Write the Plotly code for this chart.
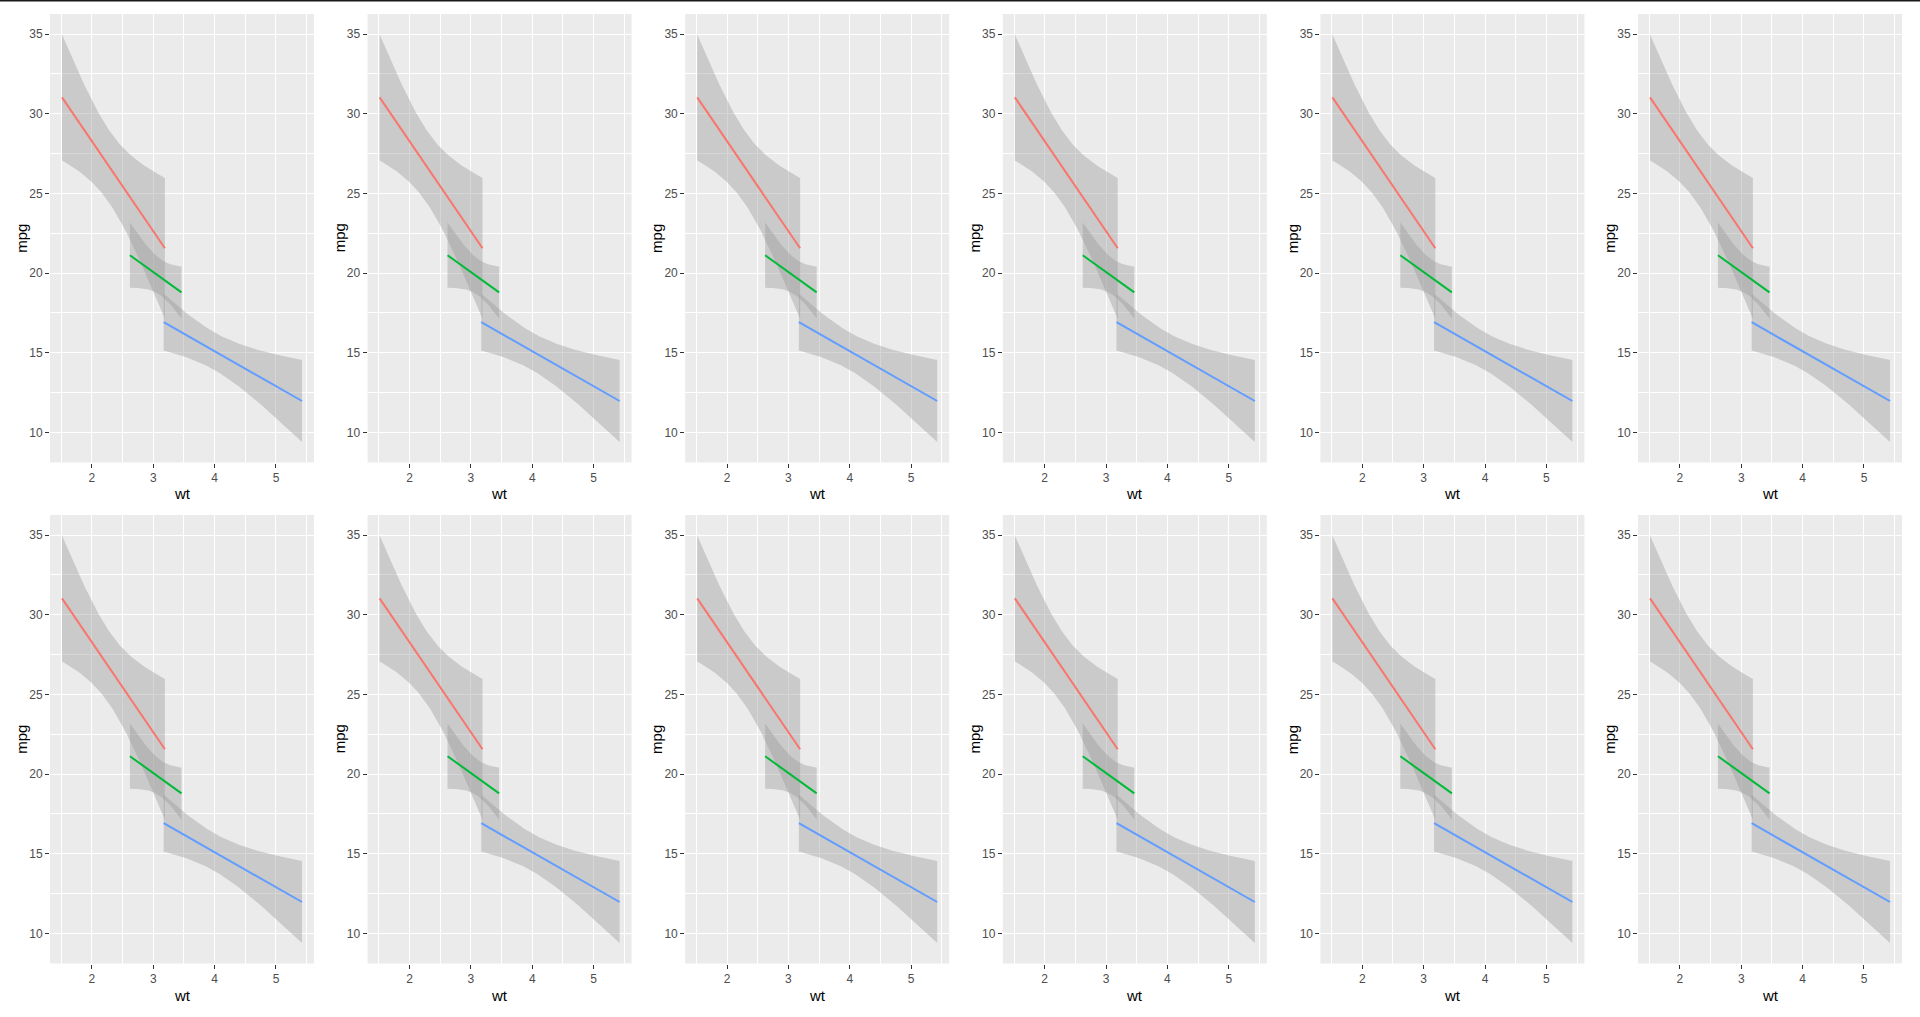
import numpy as np
import plotly.graph_objects as go

# mtcars data (wt in 1000 lbs, mpg), split by number of cylinders
wt_4cyl = [2.320, 3.190, 3.150, 2.200, 1.615, 1.835, 2.465, 1.935, 2.140, 1.513, 2.780]
mpg_4cyl = [22.8, 24.4, 22.8, 32.4, 30.4, 33.9, 21.5, 27.3, 26.0, 30.4, 21.4]

wt_6cyl = [2.620, 2.875, 3.215, 3.460, 3.440, 3.440, 2.770]
mpg_6cyl = [21.0, 21.0, 21.4, 18.1, 19.2, 17.8, 19.7]

wt_8cyl = [3.440, 3.570, 4.070, 3.730, 3.780, 5.250, 5.424, 5.345, 3.520, 3.435, 3.840, 3.845, 3.170, 3.570]
mpg_8cyl = [18.7, 14.3, 16.4, 17.3, 15.2, 10.4, 10.4, 14.7, 15.5, 15.2, 13.3, 19.2, 15.8, 15.0]

group_colors = ["#F8766D", "#00BA38", "#619CFF"]
# two-sided 95% Student t quantiles by residual degrees of freedom
t975 = {5: 2.570582, 9: 2.262157, 12: 2.178813}

x_ticks = [2, 3, 4, 5]
y_ticks = [10, 15, 20, 25, 30, 35]

groups = [(wt_4cyl, mpg_4cyl), (wt_6cyl, mpg_6cyl), (wt_8cyl, mpg_8cyl)]


def lm_smooth(x, y, n_pts=80):
    x = np.asarray(x, float)
    y = np.asarray(y, float)
    n = len(x)
    xbar, ybar = x.mean(), y.mean()
    sxx = ((x - xbar) ** 2).sum()
    b1 = ((x - xbar) * (y - ybar)).sum() / sxx
    b0 = ybar - b1 * xbar
    s = np.sqrt(((y - (b0 + b1 * x)) ** 2).sum() / (n - 2))
    xs = np.linspace(x.min(), x.max(), n_pts)
    fit = b0 + b1 * xs
    se = s * np.sqrt(1.0 / n + (xs - xbar) ** 2 / sxx)
    t = t975[n - 2]
    return xs, fit, fit - t * se, fit + t * se


smooths = [lm_smooth(x, y) for x, y in groups]

all_x = np.concatenate([np.asarray(g[0]) for g in groups])
xmin, xmax = all_x.min(), all_x.max()
ymin = min(s[2].min() for s in smooths)
ymax = max(s[3].max() for s in smooths)
xr = [xmin - 0.05 * (xmax - xmin), xmax + 0.05 * (xmax - xmin)]
yr = [ymin - 0.05 * (ymax - ymin), ymax + 0.05 * (ymax - ymin)]

W, H = 1920, 1017
col_left = [50 + 317.6 * i for i in range(6)]
panel_w = 264
row_top = [14, 515]
panel_h = 448.5

fig = go.Figure()
annotations = []
tick_font = dict(family="Liberation Sans, Arial, sans-serif", size=12, color="#4D4D4D")
title_font = dict(family="Liberation Sans, Arial, sans-serif", size=15, color="#000000")

k = 0
for r in range(2):
    for c in range(6):
        k += 1
        sfx = "" if k == 1 else str(k)
        xa, ya = "x" + sfx, "y" + sfx
        for (xs, fit, lo, hi), col in zip(smooths, group_colors):
            fig.add_trace(go.Scatter(
                x=np.concatenate([xs, xs[::-1]]),
                y=np.concatenate([hi, lo[::-1]]),
                fill="toself", fillcolor="rgba(153,153,153,0.4)",
                line=dict(width=0), mode="lines", hoverinfo="skip",
                xaxis=xa, yaxis=ya, showlegend=False))
            fig.add_trace(go.Scatter(
                x=xs, y=fit, mode="lines", line=dict(color=col, width=2),
                xaxis=xa, yaxis=ya, showlegend=False))
        x0 = col_left[c] / W
        x1 = (col_left[c] + panel_w) / W
        y1 = 1 - row_top[r] / H
        y0 = 1 - (row_top[r] + panel_h) / H
        common = dict(
            showgrid=True, gridcolor="#FFFFFF", gridwidth=1.3,
            zeroline=False, showline=False,
            ticks="outside", ticklen=4, tickwidth=1, tickcolor="#333333",
            tickfont=tick_font, fixedrange=True,
        )
        fig.layout["xaxis" + sfx] = dict(
            domain=[x0, x1], anchor=ya, range=xr, tickvals=x_ticks,
            minor=dict(dtick=0.5, tick0=0, showgrid=True, gridcolor="#FFFFFF", gridwidth=0.6),
            **common)
        fig.layout["yaxis" + sfx] = dict(
            domain=[y0, y1], anchor=xa, range=yr, tickvals=y_ticks,
            minor=dict(dtick=2.5, tick0=0, showgrid=True, gridcolor="#FFFFFF", gridwidth=0.6),
            **common)
        annotations.append(dict(
            text="wt", xref=xa + " domain", yref=ya + " domain", x=0.5, y=0,
            xanchor="center", yanchor="middle", yshift=-31.5, showarrow=False,
            font=title_font))
        annotations.append(dict(
            text="mpg", xref=xa + " domain", yref=ya + " domain", x=0, y=0.5,
            xanchor="center", yanchor="middle", xshift=-28.5, textangle=-90,
            showarrow=False, font=title_font))

fig.update_layout(
    width=W, height=H, margin=dict(l=0, r=0, t=0, b=0),
    paper_bgcolor="#FFFFFF", plot_bgcolor="#EBEBEB",
    showlegend=False, annotations=annotations,
    shapes=[dict(type="rect", xref="paper", yref="paper", x0=0, x1=1,
                 y0=1 - 1.5 / H, y1=1, fillcolor="#1A1A1A", line=dict(width=0),
                 layer="above")],
)

fig.write_html("out.html", config={"displayModeBar": False},
               post_script="document.body.style.margin='0';document.body.style.overflow='hidden';")
